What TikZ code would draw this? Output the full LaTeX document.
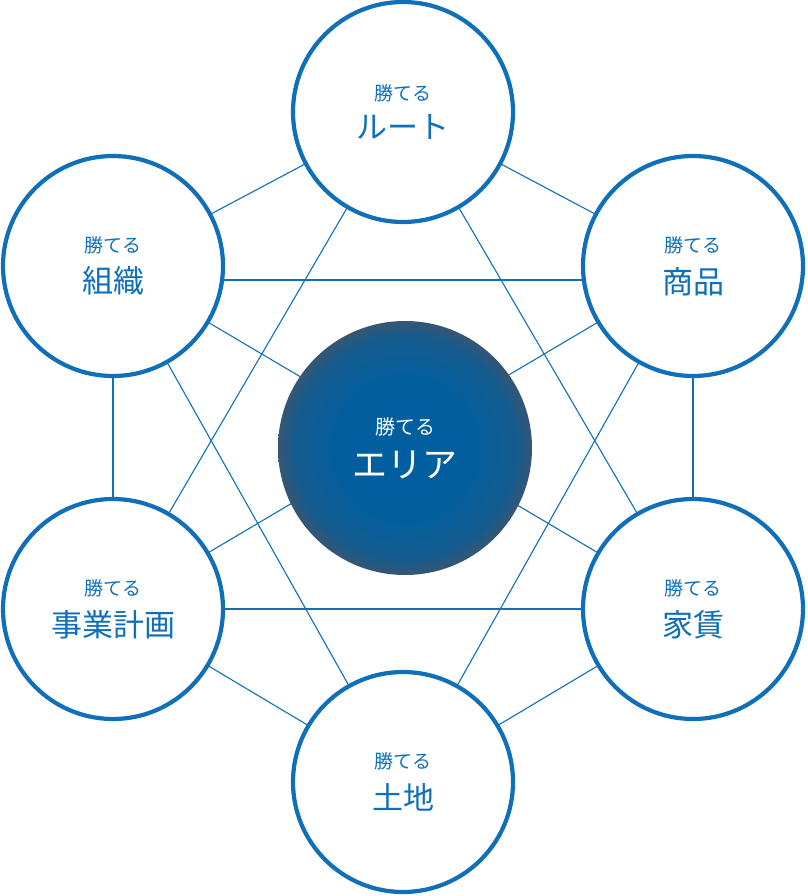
\documentclass[tikz,border=0pt]{standalone}
\usepackage{fontspec}
\newfontfamily\cjk{Noto Sans CJK JP}
\definecolor{bl}{HTML}{0F6FB8}
\pgfdeclareradialshading{ctr}{\pgfpoint{0bp}{0bp}}{color(0bp)=(rgb:red,0;green,112;blue,190);color(14bp)=(rgb:red,4;green,114;blue,190);color(22bp)=(rgb:red,30;green,128;blue,198);color(25bp)=(rgb:red,100;green,160;blue,215);color(50bp)=(rgb:red,100;green,160;blue,215)}
\begin{document}
\begin{tikzpicture}[x=1pt,y=-1pt,
  outer/.style={circle,draw=bl,line width=4.2pt,fill=white,minimum size=220pt,align=center,text=bl,font=\cjk},
  link/.style={draw=bl,line width=1.1pt}]
\useasboundingbox (0,0) rectangle (807,896);
\coordinate (T) at (403,112);
\coordinate (TL) at (113,266);
\coordinate (TR) at (693,266);
\coordinate (BL) at (113,609);
\coordinate (BR) at (693,609);
\coordinate (B) at (403,782);
\coordinate (C) at (405,448);
\foreach \a/\b in {T/TL,T/TR,TL/BL,TR/BR,BL/B,BR/B,T/BL,T/BR,TL/B,TR/B,TL/BR,TR/BL}
  \draw[link] (\a) -- (\b);
\draw[link] (113,280) -- (693,280);
\draw[link] (113,609) -- (693,609);
\node[outer] (nT) at (T) {{\fontsize{19}{21}\selectfont 勝てる}\\[12pt]{\fontsize{31}{34}\selectfont ルート}};
\node[outer] (nTL) at (TL) {{\fontsize{19}{21}\selectfont 勝てる}\\[12pt]{\fontsize{31}{34}\selectfont 組織}};
\node[outer] (nTR) at (TR) {{\fontsize{19}{21}\selectfont 勝てる}\\[12pt]{\fontsize{31}{34}\selectfont 商品}};
\node[outer] (nBL) at (BL) {{\fontsize{19}{21}\selectfont 勝てる}\\[12pt]{\fontsize{31}{34}\selectfont 事業計画}};
\node[outer] (nBR) at (BR) {{\fontsize{19}{21}\selectfont 勝てる}\\[12pt]{\fontsize{31}{34}\selectfont 家賃}};
\node[outer] (nB) at (B) {{\fontsize{19}{21}\selectfont 勝てる}\\[12pt]{\fontsize{31}{34}\selectfont 土地}};
\shade[shading=ctr] (C) circle (127);
\node[align=center,text=white,font=\cjk] (nC) at (C) {{\fontsize{20}{22}\selectfont 勝てる}\\[14pt]{\fontsize{35}{38}\selectfont エリア}};
\end{tikzpicture}
\end{document}
